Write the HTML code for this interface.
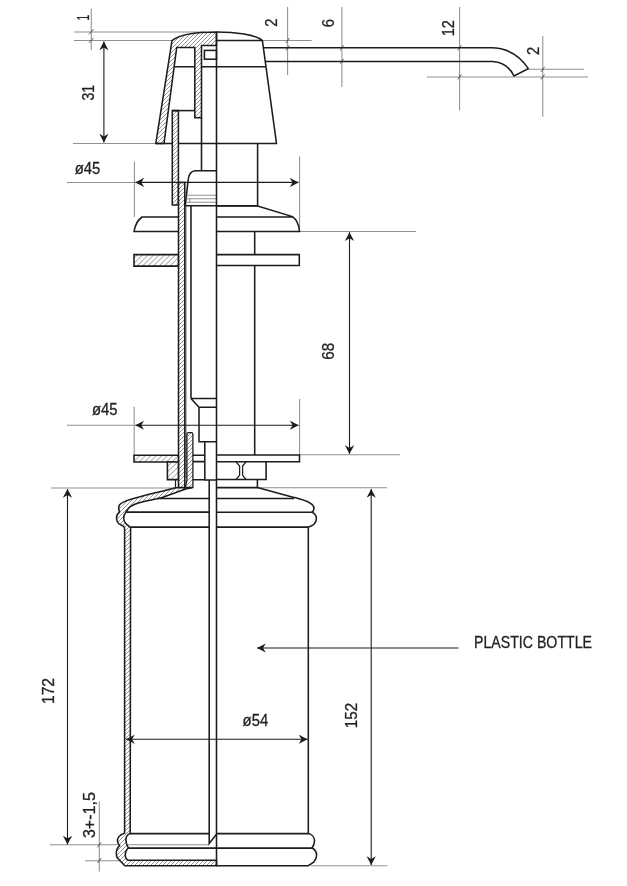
<!DOCTYPE html>
<html><head><meta charset="utf-8">
<style>
html,body{margin:0;padding:0;background:#fff;}
svg{display:block;will-change:transform;transform:translateZ(0);}
text{font-family:"Liberation Sans",sans-serif;font-size:16.5px;fill:#222;stroke:#222;stroke-width:0.3px;}
.h{stroke:#1c1c1c;stroke-width:1.55;fill:none;stroke-linecap:butt;stroke-linejoin:miter;}
.hf{stroke:#1c1c1c;stroke-width:1.55;fill:url(#ht);stroke-linejoin:miter;}
.m{stroke:#3a3a3a;stroke-width:0.9;fill:none;}
.t{stroke:#909090;stroke-width:1.05;fill:none;}
.d{stroke:#1c1c1c;stroke-width:1.1;fill:none;}
.k{stroke:#333;stroke-width:0.8;fill:none;}
</style></head><body>
<svg width="627" height="886" viewBox="0 0 627 886">
<defs>
<pattern id="ht" width="4" height="4" patternUnits="userSpaceOnUse">
<rect width="4" height="4" fill="#fff"/><path d="M-1,1L1,-1M0,4L4,0M3,5L5,3" stroke="#737373" stroke-width="0.75" fill="none"/>
</pattern>
<pattern id="ht2" width="5.5" height="5.5" patternUnits="userSpaceOnUse" x="1.5">
<rect width="5.5" height="5.5" fill="#fff"/><path d="M-1,1L1,-1M0,5.5L5.5,0M4.5,6.5L6.5,4.5" stroke="#737373" stroke-width="0.8" fill="none"/>
</pattern>
<marker id="a" markerWidth="12" markerHeight="12" refX="8.8" refY="4.6" orient="auto-start-reverse" markerUnits="userSpaceOnUse"><path d="M8.8,4.6 L0,0 L2.8,4.6 L0,9.2 Z" fill="#1c1c1c"/></marker>
</defs>
<rect width="627" height="886" fill="#fff"/>

<!-- ===== thin extension lines ===== -->
<g class="t" id="ext">
<path d="M74,32H205 M74,40.4H172 M91.3,8.5V50 M73,143.5H156"/>
<path d="M287.6,7V75 M341.9,7V87 M262.8,40.5H311.6"/>
<path d="M459.6,7V110.6 M542.8,36V116.8 M529,69.3H584 M427,76.9H588"/>
<path d="M67,182.4H134 M134.4,161.5V217 M299.6,156.5V231"/>
<path d="M299.5,231.5H416 M299.5,454.8H400"/>
<path d="M67,425.2H134 M134.2,406.8V455 M299.6,399V455"/>
<path d="M51,488H178 M257.4,487.8H387"/>
<path d="M50,844.8H209 M85,860.8H120 M99.3,801.6V871.4 M311,865.7H387.2"/>
</g>

<!-- ===== cap ===== -->
<g id="cap">
<path class="h" d="M173.4,66.7H266"/>
<path class="hf" d="M172,40.6 C180,34 200,32 216.5,32 L216.5,45.5 L201.5,45.5 L201.5,117.7 L194.8,117.7 L194.8,47.5 L176.7,47.5 L164,143.5 L155.8,143.5 Z"/>
<path class="h" d="M216.5,32 C235,32 256,34.5 262.4,40.6 L276.5,143.5 L155.8,143.5"/>
<path class="h" d="M216.5,40.4H262.4"/>
<rect class="h" x="204.4" y="50.4" width="12.1" height="8.8"/>
<path class="hf" d="M172.3,110.6 H178.4 V204.9 H172.3 Z"/>
<path class="h" d="M172.3,110.6H194.8"/>
</g>

<!-- ===== nozzle ===== -->
<g id="nozzle">
<path class="h" d="M263.4,47.8 H491 Q515,48 528.3,68.7 L514,76 Q507,62 492.6,61.5 H265.3"/>
</g>

<!-- ===== upper body ===== -->
<g id="upper">
<path class="h" d="M257.6,143.5V205.9 M201.5,117V170.7"/>
<path class="h" d="M185.4,205.5 L188,181 Q189,170.7 195.5,170.7 L216.5,170.7"/>
<path class="t" d="M186.6,195.3H216.5 M186.3,198.8H216.5 M186,202.3H216.5 M189.8,198.8V202.3"/>
<path class="h" d="M185,205.8H257.6"/>
<!-- hatched column 2 -->
<path class="hf" d="M178.5,182.5 H184.8 V487.5 H178.5 Z"/>
<path class="m" d="M185.9,205.8V478"/>
<path class="h" d="M191,206V398.4"/>
<!-- flange -->
<path class="h" d="M216.5,205.9 H257.6 L292.5,216.6 Q298.6,221 299.5,231.5 H216.5 M216.5,217H292.5"/>
<path class="h" d="M178.4,217 H142 Q135.6,221.5 134,231.5 H178.4"/>
<!-- plate 1 -->
<path class="hf" style="fill:url(#ht2)" d="M134,254.6 H178.4 V266.1 H134 Z"/>
<path class="h" d="M216.5,254.6 H299.3 V265.4 H216.5"/>
<!-- stem -->
<path class="h" d="M254.7,231.5V254.6 M254.7,265.4V455"/>
</g>

<!-- ===== lower mechanism ===== -->
<g id="lower">
<path class="h" d="M191,398.4H216.5 M191,398.4 L199,407.2 H216.5 M199,407.2V441.8H216.5 M204.8,441.8V480H216.5"/>
<path class="h" d="M209.2,480V843.5L216.2,834.5"/>
<!-- plate 2 -->
<path class="hf" style="fill:url(#ht2)" d="M134,455.2 H178.4 V462 H134 Z"/>
<path class="h" d="M216.5,455 H299.5 V461.8 H216.5"/>
<path class="h" d="M192.9,455.2H204.8 M192.9,461.6H204.8 M192.9,479.7H204.8"/>
<!-- nut -->
<path class="hf" style="fill:url(#ht2)" d="M167.4,462 H178.4 V479.6 H167.4 Z"/>
<path class="h" d="M216.5,479.5 H266.1 V461.8"/>
<path class="h" d="M236,461.8 L239.6,466 V475.3 L236,479.5 M246,461.8 L242.6,466 V475.3 L246,479.5" style="stroke-width:1.25"/>
<path class="h" d="M257.4,479.5V487.6 H216.5"/>
<path class="h" d="M175.5,479.5V487.5" style="stroke-width:1.2"/>
<!-- narrow bar -->
<path class="hf" d="M186.9,480 V434.2 Q186.9,432.7 188.4,432.7 H191.4 Q192.9,432.7 192.9,434.2 V487.5 H185.3 Z" style="stroke-width:1.3"/>
</g>

<!-- ===== bottle ===== -->
<g id="bottle">
<!-- left section (hatched wall) -->
<path class="hf" d="M175.8,487.7 L165,490.4 L148.1,494.6 L133.7,498.4 C128,500 121,501.8 119.4,505.1 C118.4,507.3 118.6,510 119.6,511.8 C117.5,513.5 116.5,515.5 116.5,518 C116.5,520.5 117.3,522 118.4,523.3 C119.8,524.8 122,525.3 123.2,526.1 C124.2,526.9 124.6,527.8 124.6,529
 L124.6,833.1 C121,834.5 117.4,836.5 117.4,840.3 C117.4,843 118.5,844.5 119.6,845.6 C117.5,847.5 116.3,850.5 116.3,853.7 C116.3,856 117,857.5 117.9,858.5 L124.8,865.7 L216.5,865.7 L216.5,860.3 L128.2,860.3 C126.5,859.5 125.3,857.5 125.3,854.7 C125.3,852 126.5,849.5 128.4,848 C127,845.5 125.9,843.5 125.9,840.3 C125.9,837 127.5,834.5 130.2,833.6
 L130.6,527.6 C129.5,526.5 127,524.8 125.6,523.3 C124.3,521.8 123.7,520 123.7,518 C123.7,515.5 124.8,513.5 126.1,511.8 C127.2,510.3 128.3,508.5 129.9,507 C132,505 135,504 138.5,502.9 C141.5,501.9 145,501 150,500.2 L161.5,497.7 L186.4,488.8 L192.1,487.7 Z"/>
<path class="h" d="M157,498.5H209.2 M126.3,512.1H209.2 M130.6,527.1H209.2 M130.2,833.6H209.2 M128.4,848.1H216.5"/>
<!-- right outline -->
<path class="h" d="M257.4,487.6 L293.9,497.4 C300,499 306,500.5 310.2,503.2 C312.5,504.7 314,506 314,508 C314,510 313,511.5 312.1,512.3 C314.5,513.5 316.4,515.5 316.4,518.5 C316.4,521 315.5,522.8 314,524.2 C312.5,525.6 310,526.3 308.3,527.1 L308.3,833.6 C311.5,834.3 314.5,837 314.5,840.8 C314.5,844 313.2,846.3 312.1,848 C314.8,849.5 316.6,852 316.6,855.1 C316.6,858 315.6,860 314,861.8 L308.3,865.7 L216.5,865.7"/>
<path class="h" d="M216.5,498.5H294 M216.5,512.2H312.1 M216.5,527.1H308.3 M216.5,833.6H308.3 M216.5,848.1H312.1"/>
</g>

<!-- centre line -->
<path class="h" d="M216.5,32V865.7"/>

<!-- ===== dimension lines ===== -->
<g class="d" id="dims">
<path d="M103.9,41.5V142.5" marker-start="url(#a)" marker-end="url(#a)"/>
<path d="M135.3,182.4H298.6" marker-start="url(#a)" marker-end="url(#a)"/>
<path d="M349.5,232.2V454" marker-start="url(#a)" marker-end="url(#a)"/>
<path d="M135.3,425.2H298.6" marker-start="url(#a)" marker-end="url(#a)"/>
<path d="M67.5,489V844.5" marker-start="url(#a)" marker-end="url(#a)"/>
<path d="M371.2,489V865" marker-start="url(#a)" marker-end="url(#a)"/>
<path d="M126,739.3H307.5" marker-start="url(#a)" marker-end="url(#a)"/>
<path d="M458.5,648H257" marker-end="url(#a)"/>
</g>
<!-- ticks -->
<g class="k" id="ticks">
<path d="M88.9,34.4L93.5,29.3 M88.9,43L93.5,37.9"/>
<path d="M285.8,43L289.4,38 M285.8,50.3L289.4,45.3"/>
<path d="M340.1,50.3L343.7,45.3 M340.1,63.8L343.7,58.8"/>
<path d="M457.8,50.3L461.4,45.3 M457.8,79.4L461.4,74.4"/>
<path d="M541,71.8L544.6,66.8 M541,79.4L544.6,74.4"/>
<path d="M97.5,847.3L101.1,842.3 M97.5,863.1L101.1,858.1"/>
</g>

<!-- ===== text ===== -->
<g id="txt">
<text transform="translate(87.5,174.4) scale(0.9,1)" text-anchor="middle">ø45</text>
<text transform="translate(104.7,415.3) scale(0.9,1)" text-anchor="middle">ø45</text>
<text transform="translate(255.4,725.8) scale(0.9,1)" text-anchor="middle">ø54</text>
<text x="474" y="648.4" textLength="118" lengthAdjust="spacingAndGlyphs">PLASTIC BOTTLE</text>
<text transform="translate(94.4,92.8) rotate(-90) scale(0.85,1)" text-anchor="middle">31</text>
<text transform="translate(88.9,17.6) rotate(-90) scale(0.62,1)" text-anchor="middle">1</text>
<text transform="translate(277.1,22.7) rotate(-90) scale(0.9,1)" text-anchor="middle">2</text>
<text transform="translate(334.2,23.1) rotate(-90) scale(0.9,1)" text-anchor="middle">6</text>
<text transform="translate(454.3,28.2) rotate(-90) scale(0.88,1)" text-anchor="middle">12</text>
<text transform="translate(538.7,50.8) rotate(-90) scale(0.9,1)" text-anchor="middle">2</text>
<text transform="translate(334.1,351.3) rotate(-90) scale(0.92,1)" text-anchor="middle">68</text>
<text transform="translate(53.7,691) rotate(-90) scale(0.95,1)" text-anchor="middle">172</text>
<text transform="translate(357,715.5) rotate(-90) scale(0.92,1)" text-anchor="middle">152</text>
<text transform="translate(94.7,815.1) rotate(-90) scale(0.975,1)" text-anchor="middle">3+-1,5</text>
</g>
</svg>
</body></html>
